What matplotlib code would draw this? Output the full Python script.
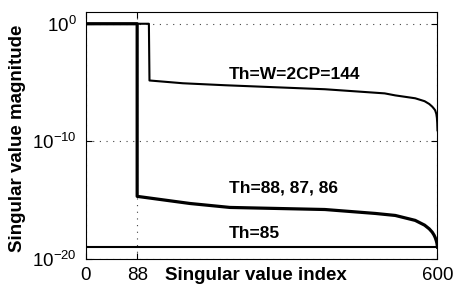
import matplotlib
matplotlib.use('Agg')
import matplotlib.pyplot as plt
from matplotlib.ticker import NullLocator, FixedLocator

plt.rcParams.update({
    "font.family": ["Liberation Sans", "DejaVu Sans"],
    "mathtext.fontset": "custom",
    "mathtext.rm": "Liberation Sans",
    "mathtext.it": "Liberation Sans:italic",
    "mathtext.bf": "Liberation Sans:bold",
})

# Th = W = 2CP = 144
idx_144 = [1, 108, 109, 166, 238, 408, 510, 528, 562, 578, 586, 591, 594,
           596, 598, 599, 599.6, 600]
sv_144 = [1.0, 1.0, 1.5e-5, 8.7e-6, 5.9e-6, 2.7e-6, 1.2e-6, 8.1e-7, 4.6e-7,
          2.6e-7, 1.5e-7, 9.0e-8, 6.0e-8, 4.4e-8, 2.2e-8, 1.0e-8, 3.5e-9,
          8.7e-10]

# Th = 88, 87, 86 (curves coincide)
idx_88 = [1, 88, 88, 178, 246, 408, 494, 528, 562, 578, 586, 591, 594, 596,
          598, 599, 599.6, 600]
sv_88 = [1.0, 1.0, 2.1e-15, 5.2e-16, 2.4e-16, 1.6e-16, 7.4e-17, 5.0e-17,
         1.9e-17, 7.5e-18, 3.6e-18, 1.9e-18, 1.1e-18, 6.8e-19, 3.5e-19,
         2.2e-19, 1.4e-19, 1.0e-19]

# Th = 85
idx_85 = [1, 600]
sv_85 = [1.0e-19, 1.0e-19]

x_ticks = [0, 88, 600]
y_ticks = [1e-20, 1e-10, 1e0]

fig = plt.figure(figsize=(4.55, 2.89), dpi=100)
ax = fig.add_axes([0.188, 0.104, 0.7735, 0.8545])

grid_kw = dict(color="#444444", linewidth=0.8, linestyle=(0, (1, 5)), zorder=1)
ax.set_yscale("log")
ax.set_xlim(0, 600)
ax.set_ylim(1e-20, 1e1)

ax.plot(idx_85, sv_85, color="black", linewidth=1.5, zorder=3)
ax.plot(idx_144, sv_144, color="black", linewidth=1.5, zorder=3)
ax.plot(idx_88, sv_88, color="black", linewidth=2.3, zorder=4)

ax.xaxis.set_major_locator(FixedLocator(x_ticks))
ax.yaxis.set_major_locator(FixedLocator(y_ticks))
ax.yaxis.set_minor_locator(NullLocator())
ax.xaxis.set_minor_locator(NullLocator())
ax.grid(True, **grid_kw)
ax.set_axisbelow(True)
ax.tick_params(direction="in", top=True, right=True, length=4, width=0.8,
               labelsize=13.5, pad=6)
for s in ax.spines.values():
    s.set_linewidth(0.8)

ax.text(245, 10**-4.3, "Th=W=2CP=144", fontsize=12.5, fontweight="bold",
        va="center", ha="left")
ax.text(245, 10**-14.0, "Th=88, 87, 86", fontsize=12.5, fontweight="bold",
        va="center", ha="left")
ax.text(245, 10**-17.83, "Th=85", fontsize=12.5, fontweight="bold",
        va="center", ha="left")

ax.set_xlabel("Singular value index", fontsize=13.5, fontweight="bold")
ax.xaxis.set_label_coords(0.483, -0.069)
ax.xaxis.label.set_va("center")
ax.set_ylabel("Singular value magnitude", fontsize=13.5, fontweight="bold")
ax.yaxis.set_label_coords(-0.193, 0.49)
ax.yaxis.label.set_va("center")

fig.savefig("out.png", dpi=100)
